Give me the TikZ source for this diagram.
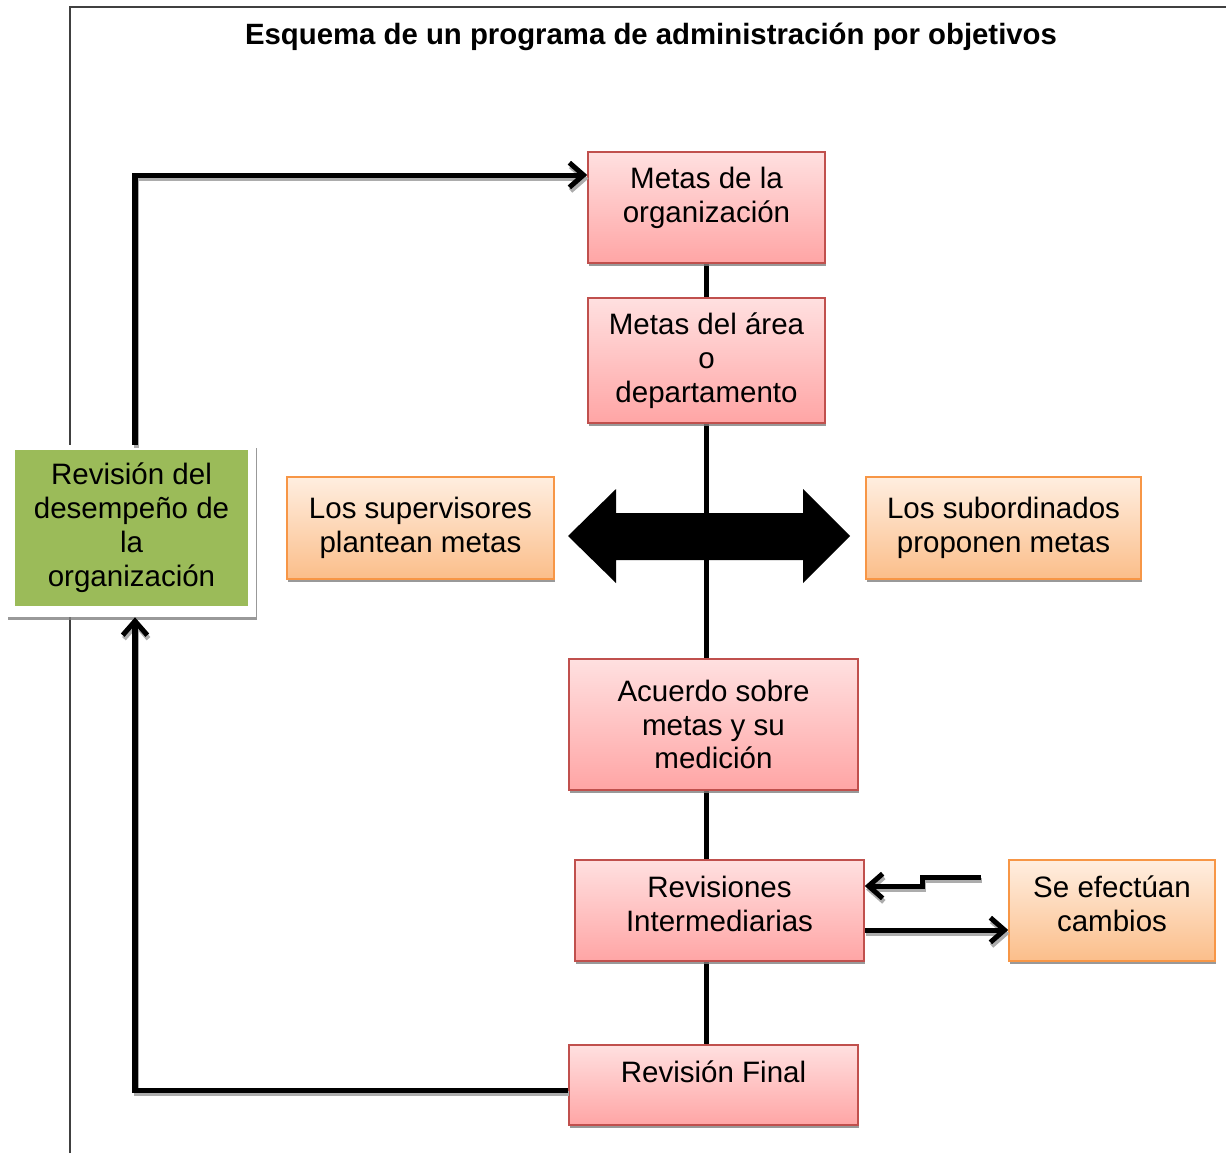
\documentclass[tikz,border=0pt]{standalone}
\usepackage{fontspec}
\setmainfont{Liberation Sans}
\usepackage{tikz}
\usetikzlibrary{arrows.meta,shadows,backgrounds}
\definecolor{rojoborde}{RGB}{192,80,77}
\definecolor{rojoarriba}{RGB}{255,224,224}
\definecolor{rojoabajo}{RGB}{255,165,165}
\definecolor{narborde}{RGB}{247,150,70}
\definecolor{nararriba}{RGB}{255,238,224}
\definecolor{narabajo}{RGB}{251,190,138}
\definecolor{verde}{RGB}{155,187,89}

\begin{document}
\begin{tikzpicture}[x=0.02cm, y=-0.02cm,
  sombra/.style={drop shadow={shadow xshift=0.6pt, shadow yshift=-1.8pt, fill=gray, opacity=0.8}},
  caja/.style={draw=rojoborde, line width=0.9pt, top color=rojoarriba, bottom color=rojoabajo,
    align=center, inner sep=0pt, font=\fontsize{16.8}{19.3}\selectfont, sombra},
  cajanar/.style={caja, draw=narborde, top color=nararriba, bottom color=narabajo},
  conn/.style={line width=2.85pt, -{Straight Barb[length=8pt, width=14pt]}},
  connsombra/.style={conn, draw=gray!65, transform canvas={xshift=0.7pt, yshift=-2pt}},
  tronco/.style={line width=2.85pt}]
\useasboundingbox (0,0) rectangle (1226,1153);
\draw[line width=0.6pt, black!75] (70,1153) -- (70,7) -- (1226,7);
\node[font=\bfseries\fontsize{16.7}{19.3}\selectfont] (titulo) at (651,37) {Esquema de un programa de administración por objetivos};

\fill[black] (568,536) -- (616,489) -- (616,513) -- (803,513) -- (803,489) -- (850,536)
  -- (803,583) -- (803,560) -- (616,560) -- (616,583) -- cycle;

\node[caja, minimum width=4.74cm, minimum height=2.22cm, text depth=14pt] (m1) at (706.5,207.5) {Metas de la\\organización};
\node[caja, minimum width=4.74cm, minimum height=2.50cm] (m2) at (706.5,360.5) {Metas del área\\o\\departamento};
\node[cajanar, minimum width=5.34cm, minimum height=2.04cm] (sup) at (420.5,528) {Los supervisores\\plantean metas};
\node[cajanar, minimum width=5.50cm, minimum height=2.04cm] (sub) at (1003.5,528) {Los subordinados\\proponen metas};
\node[fill=white, sombra, minimum width=4.98cm, minimum height=3.44cm, inner sep=0pt] (revbg) at (131.5,531) {};
\node[fill=verde, minimum width=4.66cm, minimum height=3.12cm, inner sep=0pt, align=center,
  font=\fontsize{16.8}{19.3}\selectfont] (rev) at (131.5,528) {Revisión del\\desempeño de\\la\\organización};
\node[caja, minimum width=5.78cm, minimum height=2.62cm] (acu) at (713.5,724.5) {Acuerdo sobre\\metas y su\\medición};
\node[caja, minimum width=5.78cm, minimum height=2.02cm, text depth=8pt] (rint) at (719.5,910.5) {Revisiones\\Intermediarias};
\node[cajanar, minimum width=4.12cm, minimum height=2.02cm, text depth=8pt] (camb) at (1112,910.5) {Se efectúan\\cambios};
\node[caja, minimum width=5.78cm, minimum height=1.60cm, text depth=15pt] (fin) at (713.5,1085) {Revisión Final};

\begin{scope}[on background layer]
\draw[tronco] (m1.south) -- (m1.south |- fin.north);
\end{scope}

\coordinate (cc) at (981,877);
\foreach \estilo in {connsombra, conn}{
\draw[\estilo] ([xshift=0.07cm]revbg.north) |- ([yshift=0.65cm]m1.west);
\draw[\estilo] ([yshift=-0.1cm]fin.west) -| ([xshift=0.07cm]revbg.south);
\draw[\estilo] ([yshift=-0.39cm]rint.east) -- ([yshift=-0.39cm]camb.west);
\draw[\estilo] (cc) -- (922,877) |- ([yshift=0.49cm]rint.east);
}
\end{tikzpicture}
\end{document}
